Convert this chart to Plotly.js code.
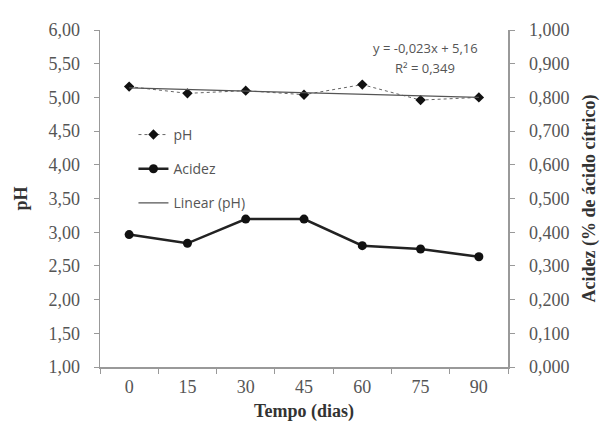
<!DOCTYPE html>
<html><head><meta charset="utf-8">
<script src="https://cdn.plot.ly/plotly-3.0.1.min.js"></script>
<style>body{margin:0;background:#fff}#c{width:603px;height:427px}</style>
</head><body><div id="c"></div>
<script>
const days = ['0','15','30','45','60','75','90'];
const ph = [5.16, 5.06, 5.10, 5.04, 5.19, 4.96, 5.00];
const acidez = [0.393, 0.367, 0.439, 0.439, 0.360, 0.350, 0.327];
const trendX = ['0','90'];
const trendY = [5.14, 5.00];
const leftTicks = [1,1.5,2,2.5,3,3.5,4,4.5,5,5.5,6];
const rightTicks = [0,0.1,0.2,0.3,0.4,0.5,0.6,0.7,0.8,0.9,1.0];
const eqText = 'y = -0,023x + 5,16';
const r2Text = 'R² = 0,349';

const serif = 'Liberation Serif';
const sans = 'Open Sans';
const grey = '#555';

const traces = [
  {x: days, y: ph, name: 'pH', type: 'scatter', mode: 'lines+markers',
   line: {color: '#666', width: 1, dash: 'dot'},
   marker: {symbol: 'diamond', size: 8, color: '#111'},
   legendgroup: 'a'},
  {x: days, y: acidez, name: 'Acidez', type: 'scatter', mode: 'lines+markers', yaxis: 'y2',
   line: {color: '#222', width: 2.5},
   marker: {symbol: 'circle', size: 9, color: '#111'},
   legendgroup: 'b'},
  {x: trendX, y: trendY, name: 'Linear (pH)', type: 'scatter', mode: 'lines',
   line: {color: '#555', width: 1.2},
   legendgroup: 'c'}
];

const layout = {
  width: 603, height: 427,
  margin: {l: 100, r: 95, t: 30, b: 60},
  paper_bgcolor: '#fff', plot_bgcolor: '#fff',
  separators: ',.',
  showlegend: true,
  legend: {x: 0.082, y: 0.736, xanchor: 'left', yanchor: 'top', bgcolor: 'rgba(0,0,0,0)',
           font: {family: sans, size: 14, color: grey}, traceorder: 'grouped', tracegroupgap: 13},
  xaxis: {type: 'category', range: [-0.5, 6.5], tickson: 'boundaries', ticks: 'outside', ticklen: 5,
          tickcolor: '#999', showline: true, linecolor: '#999', linewidth: 1.5, showgrid: false,
          zeroline: false, tickfont: {family: serif, size: 18, color: grey}, ticklabelstandoff: 3,
          title: {text: '<b>Tempo (dias)</b>', font: {family: serif, size: 18, color: '#333'}, standoff: 8}},
  yaxis: {range: [1, 6], tickvals: leftTicks, tickformat: '.2f', ticks: 'outside', ticklen: 5,
          tickcolor: '#999', showline: true, linecolor: '#999', linewidth: 1.5, showgrid: false,
          zeroline: false, tickfont: {family: serif, size: 18, color: grey}, ticklabelstandoff: 10,
          title: {text: '<b>pH</b>', font: {family: serif, size: 18, color: '#333'}, standoff: 16}},
  yaxis2: {range: [0, 1], tickvals: rightTicks, tickformat: '.3f', overlaying: 'y', side: 'right',
           ticks: 'outside', ticklen: 5, tickcolor: '#999', showline: true, linecolor: '#999', linewidth: 1.5,
           showgrid: false, zeroline: false, tickfont: {family: serif, size: 18, color: grey}, ticklabelstandoff: 11,
           title: {text: '<b>Acidez (% de ácido cítrico)</b>', font: {family: serif, size: 18, color: '#333'}, standoff: 14}},
  annotations: [
    {xref: 'paper', yref: 'paper', x: 0.797, y: 0.947, xanchor: 'center', yanchor: 'middle', text: eqText, showarrow: false,
     font: {family: sans, size: 13, color: grey}},
    {xref: 'paper', yref: 'paper', x: 0.797, y: 0.887, xanchor: 'center', yanchor: 'middle', text: r2Text, showarrow: false,
     font: {family: sans, size: 13, color: grey}}
  ]
};

Plotly.newPlot('c', traces, layout, {displayModeBar: false, staticPlot: true});
</script></body></html>
